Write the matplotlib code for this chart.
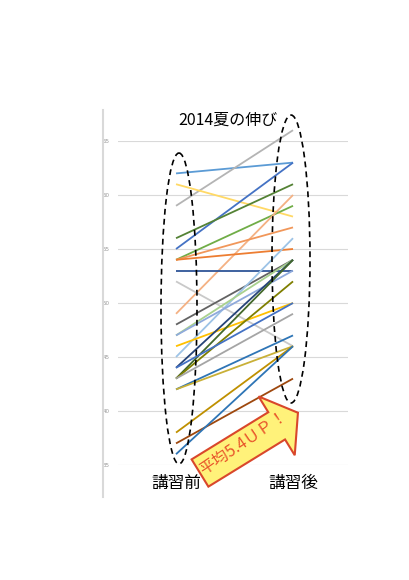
import matplotlib
matplotlib.use('Agg')
import matplotlib.pyplot as plt
import matplotlib.transforms as mtransforms
from matplotlib.patches import Ellipse, Polygon
from matplotlib.lines import Line2D
import numpy as np

plt.rcParams['font.family'] = ['Noto Sans CJK JP', 'DejaVu Sans']

categories = ['講習前', '講習後']
before = [62, 59, 61, 55, 56, 54, 49, 54, 54, 53, 52, 48, 45, 47, 47, 46,
          44, 43, 43, 44, 43, 42, 42, 38, 37, 36]
after = [63, 66, 58, 63, 61, 59, 60, 57, 55, 53, 46, 54, 56, 54, 53, 50,
         54, 54, 52, 50, 49, 47, 46, 46, 43, 46]
colors = ['#5B9BD5', '#B4B4B4', '#FFD966', '#4472C4', '#548235', '#70AD47',
          '#F4B183', '#F1975A', '#ED7D31', '#2F5597', '#C9C9C9', '#636363',
          '#9DC3E6', '#A9D18E', '#8FAADC', '#FFC000', '#264478', '#43682B',
          '#7F7F00', '#4472C4', '#A5A5A5', '#2E75B6', '#C9B037', '#BF9000',
          '#9E480E', '#2E75B6']
yticks = [35, 40, 45, 50, 55, 60, 65]

W, H = 410, 580
fig = plt.figure(figsize=(W / 100, H / 100), dpi=100)
px = mtransforms.Affine2D().scale(1 / W, -1 / H).translate(0, 1) + fig.transFigure

ax = fig.add_axes([118 / W, 1 - 465 / H, 230 / W, 324 / H])
for b, a, c in zip(before, after, colors):
    ax.plot([0, 1], [b, a], color=c, lw=1.3, clip_on=False, solid_capstyle='butt')

ax.set_xlim(-0.496, 1.47)
ax.set_ylim(35, 65)
ax.set_yticks(yticks)
ax.set_yticklabels([str(t) for t in yticks], family='DejaVu Sans')
ax.yaxis.grid(True, color='#D9D9D9', lw=0.8)
ax.set_axisbelow(True)
for s in ax.spines.values():
    s.set_visible(False)
ax.tick_params(axis='y', length=0, labelsize=4, labelcolor='#999999', pad=6)
ax.set_xticks([0, 1])
ax.set_xticklabels(categories, fontsize=12)
ax.tick_params(axis='x', length=0, pad=7)

# chart area left border
fig.add_artist(Line2D([103, 103], [110, 497], transform=px, color='#D9D9D9', lw=1.5))

fig.text(228 / W, 1 - 120 / H, '2014夏の伸び', ha='center', va='center', fontsize=11.5)

# dashed ellipses
fig.add_artist(Ellipse((179, 308.5), 36, 311, fill=False, ec='black', lw=1.2,
                       ls=(0, (3.5, 2.5)), transform=px))
fig.add_artist(Ellipse((291, 259), 38, 288, fill=False, ec='black', lw=1.2,
                       ls=(0, (3.5, 2.5)), transform=px))

# block arrow
th = np.radians(31.6)
d = np.array([np.cos(th), -np.sin(th)])
n = np.array([np.sin(th), np.cos(th)])
T = np.array([200, 473])
L1, bw, hw, hl = 90, 16, 34.5, 25
pts = [T - bw * n, T - bw * n + L1 * d, T - hw * n + L1 * d, T + (L1 + hl) * d,
       T + hw * n + L1 * d, T + bw * n + L1 * d, T + bw * n]
fig.add_artist(Polygon(pts, closed=True, fc='#FFF27A', ec='#D9472B', lw=1.5,
                       transform=px, zorder=5))
fig.text(243.5 / W, 1 - 443 / H, '平均5.4ＵＰ！', ha='center', va='center',
         rotation=34, rotation_mode='anchor', fontsize=11.5, color='#E8542A',
         zorder=6)

fig.savefig('out.png', dpi=100)
